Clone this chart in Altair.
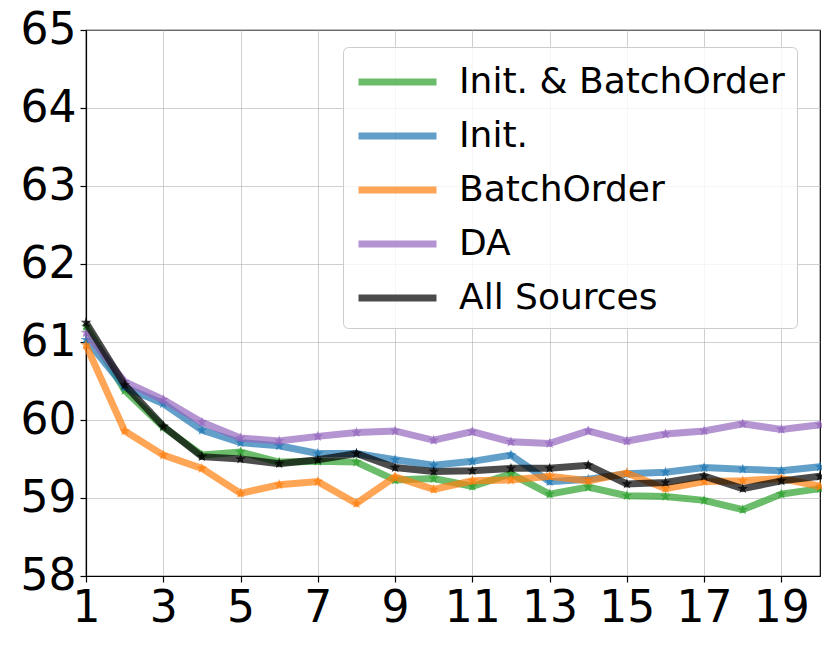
import altair as alt
import pandas as pd

epochs = list(range(1, 21))
series_names = ["Init. & BatchOrder", "Init.", "BatchOrder", "DA", "All Sources"]
series_colors = ["#2ca02c", "#1f77b4", "#ff7f0e", "#9467bd", "#000000"]

init_batch = [61.20, 60.38, 59.91, 59.55, 59.59, 59.46, 59.47, 59.46, 59.23, 59.25,
              59.15, 59.31, 59.05, 59.14, 59.03, 59.02, 58.97, 58.85, 59.05, 59.12]
init_only = [61.03, 60.42, 60.21, 59.87, 59.71, 59.67, 59.57, 59.57, 59.49, 59.42,
             59.47, 59.55, 59.21, 59.24, 59.31, 59.33, 59.39, 59.37, 59.35, 59.40]
batch_order = [60.96, 59.86, 59.55, 59.38, 59.06, 59.17, 59.21, 58.93, 59.27, 59.11,
               59.22, 59.23, 59.28, 59.22, 59.32, 59.12, 59.21, 59.22, 59.25, 59.15]
da = [61.12, 60.49, 60.26, 59.97, 59.77, 59.73, 59.79, 59.84, 59.86, 59.74,
      59.85, 59.72, 59.70, 59.86, 59.73, 59.82, 59.86, 59.95, 59.88, 59.94]
all_sources = [61.25, 60.45, 59.92, 59.53, 59.50, 59.44, 59.49, 59.57, 59.39, 59.34,
               59.35, 59.38, 59.38, 59.42, 59.18, 59.20, 59.28, 59.12, 59.22, 59.28]

x_ticks = [1, 3, 5, 7, 9, 11, 13, 15, 17, 19]
y_ticks = [58, 59, 60, 61, 62, 63, 64, 65]

all_values = [init_batch, init_only, batch_order, da, all_sources]

STAR = ("M0,-1L0.225,-0.309L0.951,-0.309L0.363,0.118L0.588,0.809L0,0.382"
        "L-0.588,0.809L-0.363,0.118L-0.951,-0.309L-0.225,-0.309Z")
LEGEND_LINE = "M-1,0H3"

rows = []
for name, vals in zip(series_names, all_values):
    for e, v in zip(epochs, vals):
        rows.append({"epoch": int(e), "value": float(v), "series": name})
df = pd.DataFrame(rows)

x_enc = alt.X("epoch:Q", scale=alt.Scale(domain=[1, 20], nice=False, zero=False),
              axis=alt.Axis(values=x_ticks, format="d", title=None, labelFlush=False))
y_enc = alt.Y("value:Q", scale=alt.Scale(domain=[58, 65], nice=False, zero=False),
              axis=alt.Axis(values=y_ticks, format="d", title=None))

color_scale = alt.Scale(domain=series_names, range=series_colors)
color_enc = alt.Color(
    "series:N",
    scale=color_scale,
    legend=alt.Legend(
        title=None, orient="none", legendX=257, legendY=17,
        symbolType=LEGEND_LINE, symbolSize=1521, symbolStrokeWidth=7,
        symbolOpacity=0.7, labelFontSize=36, labelOffset=58, rowPadding=13,
        padding=12, fillColor="rgba(255,255,255,0.8)", strokeColor="#cccccc",
        cornerRadius=5, labelLimit=500, labelFont="DejaVu Sans", labelColor="black",
    ),
)
point_color = alt.Color("series:N", scale=color_scale, legend=None)

base = alt.Chart(df)
layers = []
for name in series_names:
    sub = base.transform_filter(alt.datum.series == name)
    layers.append(sub.mark_line(strokeWidth=7, opacity=0.7).encode(x=x_enc, y=y_enc, color=color_enc))
    layers.append(sub.mark_point(shape=STAR, filled=True, size=130, opacity=0.75).encode(
        x=x_enc, y=y_enc, color=point_color))

chart = alt.layer(*layers).properties(
    width=734, height=546, autosize="none",
    padding={"left": 78, "top": 22, "right": 2, "bottom": 63},
).configure_view(
    stroke="black", strokeWidth=1.2
).configure_axis(
    labelFontSize=44, labelColor="black", labelFont="DejaVu Sans",
    domainColor="black", domainWidth=1.2, tickColor="black", tickWidth=1.2, tickSize=6,
    labelPadding=4, gridColor="#b0b0b0", gridOpacity=0.6, gridWidth=1,
)

chart.save("out.html", embed_options={"renderer": "svg", "actions": False})
